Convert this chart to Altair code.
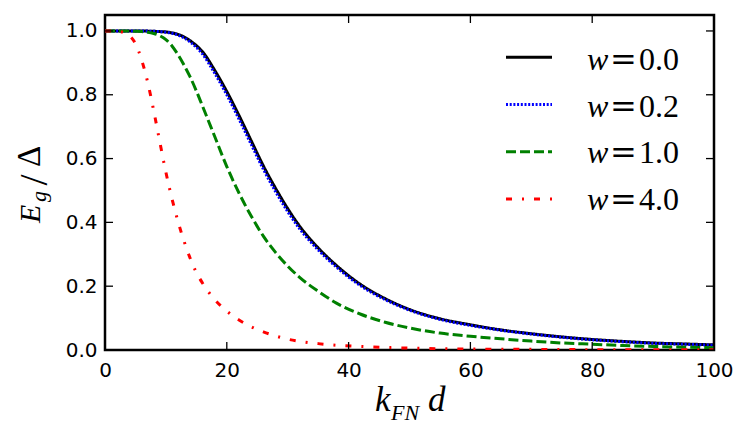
import altair as alt
import pandas as pd

# ---------------- data ----------------
k = [0, 2, 4, 5, 6, 7, 8, 9, 10, 11, 12, 13, 14, 15, 16, 18, 20, 22, 24, 26, 28,
     30, 32, 35, 38, 42, 46, 50, 55, 60, 65, 70, 75, 80, 85, 90, 95, 100]

e_w00 = [1.0, 1.0, 1.0, 1.0, 1.0, 0.9995, 0.999, 0.998, 0.997, 0.994, 0.989, 0.981,
         0.969, 0.954, 0.935, 0.877, 0.81, 0.735, 0.656, 0.577, 0.507, 0.443, 0.387,
         0.32, 0.265, 0.205, 0.161, 0.127, 0.098, 0.079, 0.063, 0.051, 0.041, 0.033,
         0.027, 0.022, 0.019, 0.016]
e_w02 = [1.0, 1.0, 1.0, 1.0, 1.0, 0.9995, 0.999, 0.998, 0.996, 0.993, 0.987, 0.978,
         0.965, 0.949, 0.928, 0.868, 0.80, 0.724, 0.645, 0.567, 0.497, 0.434, 0.379,
         0.314, 0.26, 0.201, 0.158, 0.125, 0.096, 0.077, 0.062, 0.05, 0.04, 0.032,
         0.026, 0.021, 0.018, 0.015]
e_w10 = [1.0, 1.0, 1.0, 0.999, 0.998, 0.996, 0.992, 0.985, 0.973, 0.953, 0.925, 0.892,
         0.855, 0.812, 0.765, 0.67, 0.575, 0.492, 0.42, 0.357, 0.306, 0.263, 0.227,
         0.184, 0.147, 0.112, 0.087, 0.069, 0.053, 0.043, 0.035, 0.028, 0.022, 0.018,
         0.014, 0.011, 0.009, 0.007]
e_w40 = [1.0, 0.999, 0.985, 0.96, 0.91, 0.84, 0.75, 0.652, 0.557, 0.474, 0.402, 0.34,
         0.287, 0.243, 0.21, 0.158, 0.122, 0.094, 0.073, 0.057, 0.044, 0.034, 0.027,
         0.02, 0.015, 0.011, 0.008, 0.006, 0.004, 0.003, 0.0025, 0.002, 0.0015, 0.001,
         0.001, 0.001, 0.001, 0.001]

w_labels = ["0.0", "0.2", "1.0", "4.0"]
x_ticks = [0, 20, 40, 60, 80, 100]
y_ticks = [0.0, 0.2, 0.4, 0.6, 0.8, 1.0]

# ---------------- styles ----------------
colors = ["#000000", "#0000ff", "#008000", "#ff0000"]
dashes = [[1, 0], [2, 1.7], [10, 4], [6, 10, 2, 10]]

rows = []
for lab, vals in zip(w_labels, [e_w00, e_w02, e_w10, e_w40]):
    for kk, vv in zip(k, vals):
        rows.append({"w": lab, "k": kk, "E": vv})
df = pd.DataFrame(rows)

W, H = 609, 335
xs = alt.Scale(domain=[0, 100], nice=False, zero=False)
ys = alt.Scale(domain=[0, 1.05], nice=False, zero=False)

lab_font = "DejaVu Sans"
math_font = "Liberation Serif"

x_axis = alt.Axis(values=x_ticks, format="d", title=None, ticks=False,
                  domain=False, grid=False, labelFont=lab_font,
                  labelFontSize=20, labelColor="black", labelPadding=10,
                  labelFlush=False, labelOverlap=False)
y_axis = alt.Axis(values=y_ticks, format=".1f", title=None, ticks=False,
                  domain=False, grid=False, labelFont=lab_font,
                  labelFontSize=20, labelColor="black", labelPadding=8,
                  labelFlush=False, labelOverlap=False)

lines = alt.Chart(df).mark_line(strokeWidth=3, interpolate="monotone", clip=True).encode(
    x=alt.X("k:Q", scale=xs, axis=x_axis),
    y=alt.Y("E:Q", scale=ys, axis=y_axis),
    color=alt.Color("w:N", scale=alt.Scale(domain=w_labels, range=colors), legend=None),
    strokeDash=alt.StrokeDash("w:N", scale=alt.Scale(domain=w_labels, range=dashes),
                              legend=None),
)

tx = pd.DataFrame({"k": x_ticks})
ty = pd.DataFrame({"E": y_ticks})
TL = 8
tick_style = dict(color="black", strokeWidth=1.3)
t_bottom = alt.Chart(tx).mark_rule(**tick_style).encode(
    x=alt.X("k:Q", scale=xs, axis=x_axis), y=alt.value(H - TL), y2=alt.value(H))
t_top = alt.Chart(tx).mark_rule(**tick_style).encode(
    x=alt.X("k:Q", scale=xs, axis=x_axis), y=alt.value(0), y2=alt.value(TL))
t_left = alt.Chart(ty).mark_rule(**tick_style).encode(
    y=alt.Y("E:Q", scale=ys, axis=y_axis), x=alt.value(0), x2=alt.value(TL))
t_right = alt.Chart(ty).mark_rule(**tick_style).encode(
    y=alt.Y("E:Q", scale=ys, axis=y_axis), x=alt.value(W - TL), x2=alt.value(W))


def txt(s, x, y, size, italic=True, angle=0, align="left", font=math_font):
    kw = dict(font=font, fontSize=size, align=align, baseline="alphabetic",
              color="black")
    if italic:
        kw["fontStyle"] = "italic"
    if angle:
        kw["angle"] = angle
    return alt.Chart(pd.DataFrame({"t": [s]})).mark_text(**kw).encode(
        x=alt.value(x), y=alt.value(y), text=alt.Text("t:N"))


# axis titles built from pieces (subscripts)
titles = [
    txt("E", -65, 208, 30, angle=270),
    txt("g", -59, 187, 22, angle=270),
    txt("/", -58, 170.5, 40, italic=False, angle=270),
    txt("Δ", -65, 152, 33, italic=False, angle=270),
    txt("k", 270, 396, 35),
    txt("FN", 286, 405, 22),
    txt("d", 323, 396, 35),
]

# legend
legend = []
for i, (lab, col, dsh) in enumerate(zip(w_labels, colors, dashes)):
    ly = 42.3 + 47.2 * i
    base = 55.3 + 46.5 * i
    legend.append(
        alt.Chart(pd.DataFrame({"w": [lab]})).mark_rule(
            color=col, strokeDash=dsh, strokeWidth=3).encode(
            x=alt.value(401), x2=alt.value(447), y=alt.value(ly)))
    legend.append(txt("w", 482, base, 32))
    legend.append(txt("=", 518.5, base, 32, italic=False, align="center",
                      font="DejaVu Serif"))
    legend.append(txt(lab, 534, base, 32, italic=False))

chart = alt.layer(lines, t_bottom, t_top, t_left, t_right, *titles, *legend).properties(
    width=W, height=H,
    autosize=alt.AutoSizeParams(type="none"),
    padding={"left": 97, "top": 7, "right": 20, "bottom": 80},
).configure(background="white").configure_view(stroke="black", strokeWidth=2.5)

chart.save("out.html", embed_options={"renderer": "svg", "actions": False})
